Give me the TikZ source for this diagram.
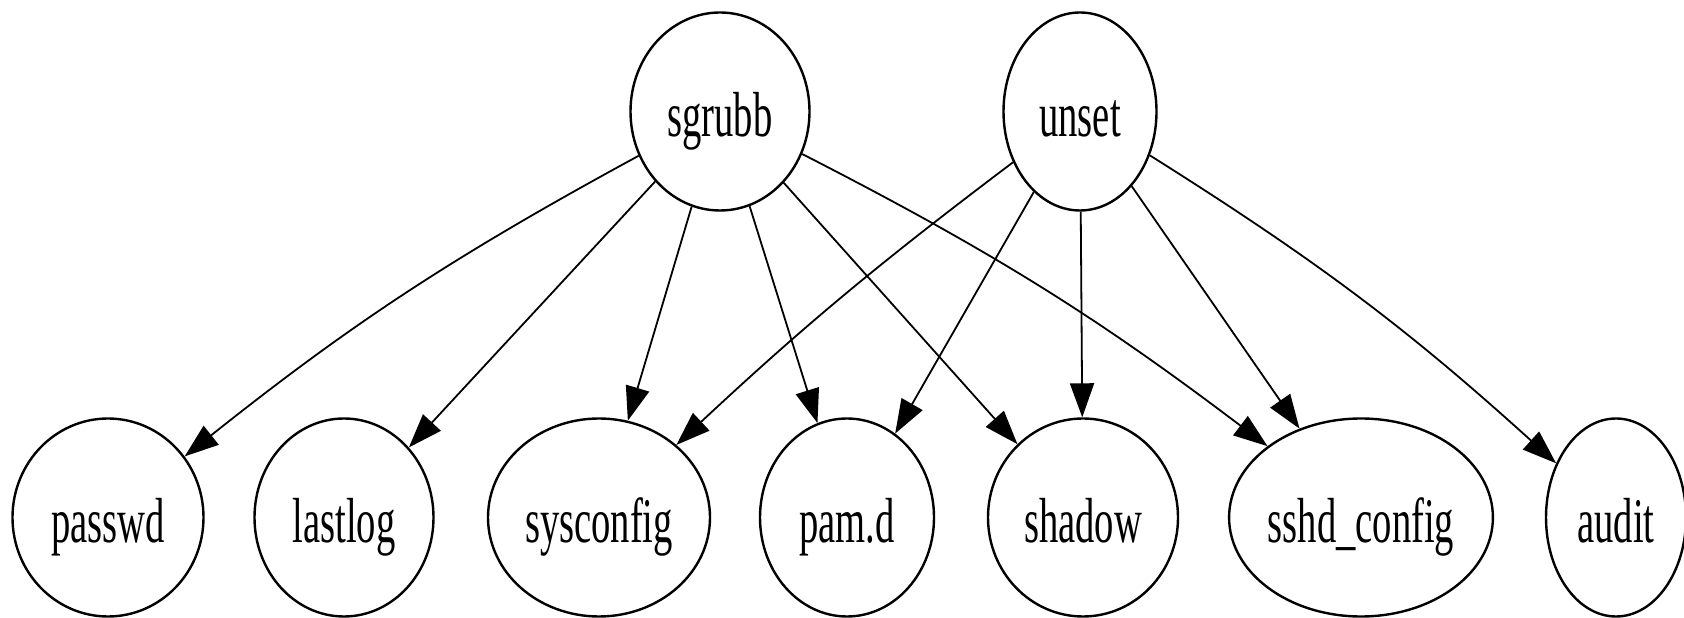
\documentclass[tikz,border=0pt]{standalone}
\usepackage{fontspec}
\setmainfont{Liberation Serif}
\usetikzlibrary{shapes.geometric,arrows.meta}
\newcommand{\tallname}[1]{\scalebox{1}[1.65]{#1}}
\tikzset{
  fnode/.style={ellipse, draw, line width=2.4pt, inner sep=0pt,
    minimum height=198, text height=62, text depth=12,
    font=\fontsize{38.6}{46}\selectfont},
}
\begin{document}
\begin{tikzpicture}[x=1pt,y=1pt]
  \useasboundingbox (0,0) rectangle (1684,618);
  \draw
    (720,506.5) node[fnode, minimum width=179] (sgrubb){\tallname{sgrubb}}
    (1080,506.5) node[fnode, minimum width=153] (unset){\tallname{unset}}
    (108,100.5) node[fnode, minimum width=191] (passwd){\tallname{passwd}}
    (344,100.5) node[fnode, minimum width=179] (lastlog){\tallname{lastlog}}
    (599,100.5) node[fnode, minimum width=222] (sysconfig){\tallname{sysconfig}}
    (847,100.5) node[fnode, minimum width=174] (pamd){\tallname{pam.d}}
    (1083,100.5) node[fnode, minimum width=190] (shadow){\tallname{shadow}}
    (1361,100.5) node[fnode, minimum width=263] (sshdconfig){\tallname{sshd\_config}}
    (1616,100.5) node[fnode, minimum width=140] (audit){\tallname{audit}};
  \begin{scope}[line width=1.8pt, -{Triangle[length=34pt,width=24pt]}]
    \draw (sgrubb) to[bend right=5] (passwd);
    \draw (sgrubb) to (lastlog);
    \draw (sgrubb) to (sysconfig);
    \draw (sgrubb) to (pamd);
    \draw (sgrubb) to (shadow);
    \draw (sgrubb) to[bend left=5] (sshdconfig);
    \draw (unset) to[bend right=3] (sysconfig);
    \draw (unset) to (pamd);
    \draw (unset) to (shadow);
    \draw (unset) to (sshdconfig);
    \draw (unset) to[bend left=5] (audit);
  \end{scope}
\end{tikzpicture}
\end{document}
